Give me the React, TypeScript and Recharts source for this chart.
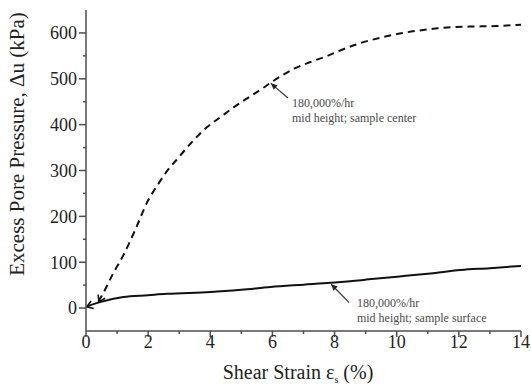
import React from 'react';
import { LineChart, Line, XAxis, YAxis, ReferenceLine, ReferenceDot, Label } from 'recharts';

const centerStrain = [0.4, 0.55, 0.87, 1.2, 1.58, 2.0, 2.3, 2.6, 3.0, 3.45, 3.9, 4.3, 4.74, 5.2, 5.7, 6.0, 6.3, 6.7, 7.2, 7.77, 8.3, 8.84, 9.5, 10.2, 10.8, 11.3, 11.9, 12.5, 13.2, 14];
const centerPressure = [14, 32, 75, 115, 170, 235, 268, 298, 330, 365, 395, 415, 437, 458, 480, 494, 507, 522, 536, 550, 565, 578, 590, 600, 606, 610, 613, 614, 615, 618];

const surfaceStrain = [0, 0.45, 1.2, 2.0, 2.6, 4.0, 5.0, 5.94, 7.0, 7.87, 9.0, 10.1, 11.0, 12.06, 13.0, 14];
const surfacePressure = [3, 13, 24, 28, 31, 35, 40, 46, 51, 55, 62, 69, 75, 83, 87, 92];

const xTicks = [0, 1, 2, 3, 4, 5, 6, 7, 8, 9, 10, 11, 12, 13, 14];
const yTicks = [0, 50, 100, 150, 200, 250, 300, 350, 400, 450, 500, 550, 600];

const rateLabel = '180,000%/hr';
const centerLabel = 'mid height; sample center';
const surfaceLabel = 'mid height; sample surface';
const yTitle = 'Excess Pore Pressure, \u0394u (kPa)';

const centerData = centerStrain.map((x, i) => ({ x, y: centerPressure[i] }));
const surfaceData = surfaceStrain.map((x, i) => ({ x, y: surfacePressure[i] }));

const FONT = "'Liberation Serif', 'DejaVu Serif', serif";
const AXIS = '#4d4d4d';

const XTick = (props: any) => {
  const { x, y, payload } = props;
  const v = payload.value;
  const major = v % 2 === 0;
  return (
    <g>
      <line x1={x} x2={x} y1={y} y2={y + (major ? 6 : 3)} stroke={AXIS} strokeWidth={1.5} />
      {major && (
        <text x={x} y={y + 17} textAnchor="middle" fontSize={18} fill="#222" style={{ fontFamily: FONT }}>
          {v}
        </text>
      )}
    </g>
  );
};

const YTick = (props: any) => {
  const { x, y, payload } = props;
  const v = payload.value;
  const major = v % 100 === 0;
  return (
    <g>
      <line x1={x} x2={x - (major ? 7 : 3)} y1={y} y2={y} stroke={AXIS} strokeWidth={1.5} />
      {major && (
        <text x={x - 9} y={y} dy="0.35em" textAnchor="end" fontSize={18} fill="#222" style={{ fontFamily: FONT }}>
          {v}
        </text>
      )}
    </g>
  );
};

const Arrow = (props: any) => {
  const { x1, y1, x2, y2 } = props;
  const ang = Math.atan2(y2 - y1, x2 - x1);
  const len = 7;
  const spread = 0.45;
  const ax = x2 - len * Math.cos(ang - spread);
  const ay = y2 - len * Math.sin(ang - spread);
  const bx = x2 - len * Math.cos(ang + spread);
  const by = y2 - len * Math.sin(ang + spread);
  return (
    <g>
      <line x1={x1} y1={y1} x2={x2} y2={y2} stroke="#333" strokeWidth={1.2} />
      <polygon points={`${x2},${y2} ${ax},${ay} ${bx},${by}`} fill="#222" />
    </g>
  );
};

const OpenHead = (props: any) => {
  const { x1, y1, x2, y2 } = props;
  const ang = Math.atan2(y2 - y1, x2 - x1);
  const len = 7;
  const spread = 0.6;
  const ax = x2 - len * Math.cos(ang - spread);
  const ay = y2 - len * Math.sin(ang - spread);
  const bx = x2 - len * Math.cos(ang + spread);
  const by = y2 - len * Math.sin(ang + spread);
  return (
    <polyline points={`${ax},${ay} ${x2},${y2} ${bx},${by}`} fill="none" stroke="#111" strokeWidth={1.6} />
  );
};

const makeNote = (line2: string) => (props: any) => {
  const { cx, cy } = props;
  return (
    <g>
      <text x={cx} y={cy} fontSize={12} fill="#4a4a4a" style={{ fontFamily: FONT }}>{rateLabel}</text>
      <text x={cx} y={cy + 15} fontSize={12} fill="#4a4a4a" style={{ fontFamily: FONT }}>{line2}</text>
    </g>
  );
};

export default function App() {
  return (
    <div style={{ position: 'absolute', left: 0, top: 0, width: 531, height: 387, background: '#fff', fontFamily: FONT }}>
      <LineChart width={531} height={387} margin={{ top: 10, right: 10, bottom: 0, left: 0 }}>
        <XAxis
          type="number"
          dataKey="x"
          domain={[0, 14]}
          ticks={xTicks}
          interval={0}
          height={56}
          tickSize={0}
          tickMargin={0}
          tick={<XTick />}
          axisLine={{ stroke: AXIS, strokeWidth: 1.5 }}
          tickLine={false}
          allowDataOverflow
        >
          <Label
            content={() => (
              <text x={298} y={379} textAnchor="middle" fontSize={20} fill="#222" style={{ fontFamily: FONT }}>
                Shear Strain {'\u03b5'}
                <tspan fontSize={10} dy={4}>s</tspan>
                <tspan dy={-4}> (%)</tspan>
              </text>
            )}
          />
        </XAxis>
        <YAxis
          type="number"
          dataKey="y"
          domain={[-50, 650]}
          ticks={yTicks}
          interval={0}
          width={86}
          tickSize={0}
          tickMargin={0}
          tick={<YTick />}
          axisLine={{ stroke: AXIS, strokeWidth: 1.5 }}
          tickLine={false}
          allowDataOverflow
        >
          <Label
            content={() => (
              <text
                x={17}
                y={144}
                transform="rotate(-90 17 144)"
                textAnchor="middle"
                dominantBaseline="central"
                fontSize={21}
                fill="#222"
                style={{ fontFamily: FONT }}
              >
                {yTitle}
              </text>
            )}
          />
        </YAxis>
        <Line
          data={surfaceData}
          dataKey="y"
          type="monotone"
          stroke="#111"
          strokeWidth={2}
          dot={false}
          isAnimationActive={false}
        />
        <Line
          data={centerData}
          dataKey="y"
          type="monotone"
          stroke="#111"
          strokeWidth={2}
          strokeDasharray="7 5"
          dot={false}
          isAnimationActive={false}
        />
        <ReferenceLine segment={[{ x: 0.4, y: 12 }, { x: 0.03, y: 3 }]} shape={<OpenHead />} />
        <ReferenceLine segment={[{ x: 0.55, y: 32 }, { x: 0.42, y: 14 }]} shape={<OpenHead />} />
        <ReferenceLine segment={[{ x: 6.5, y: 458 }, { x: 5.95, y: 490 }]} shape={<Arrow />} />
        <ReferenceLine segment={[{ x: 8.47, y: 12 }, { x: 7.89, y: 52 }]} shape={<Arrow />} />
        <ReferenceDot x={6.63} y={438} r={0} shape={makeNote(centerLabel)} />
        <ReferenceDot x={8.72} y={1.5} r={0} shape={makeNote(surfaceLabel)} />
      </LineChart>
    </div>
  );
}
